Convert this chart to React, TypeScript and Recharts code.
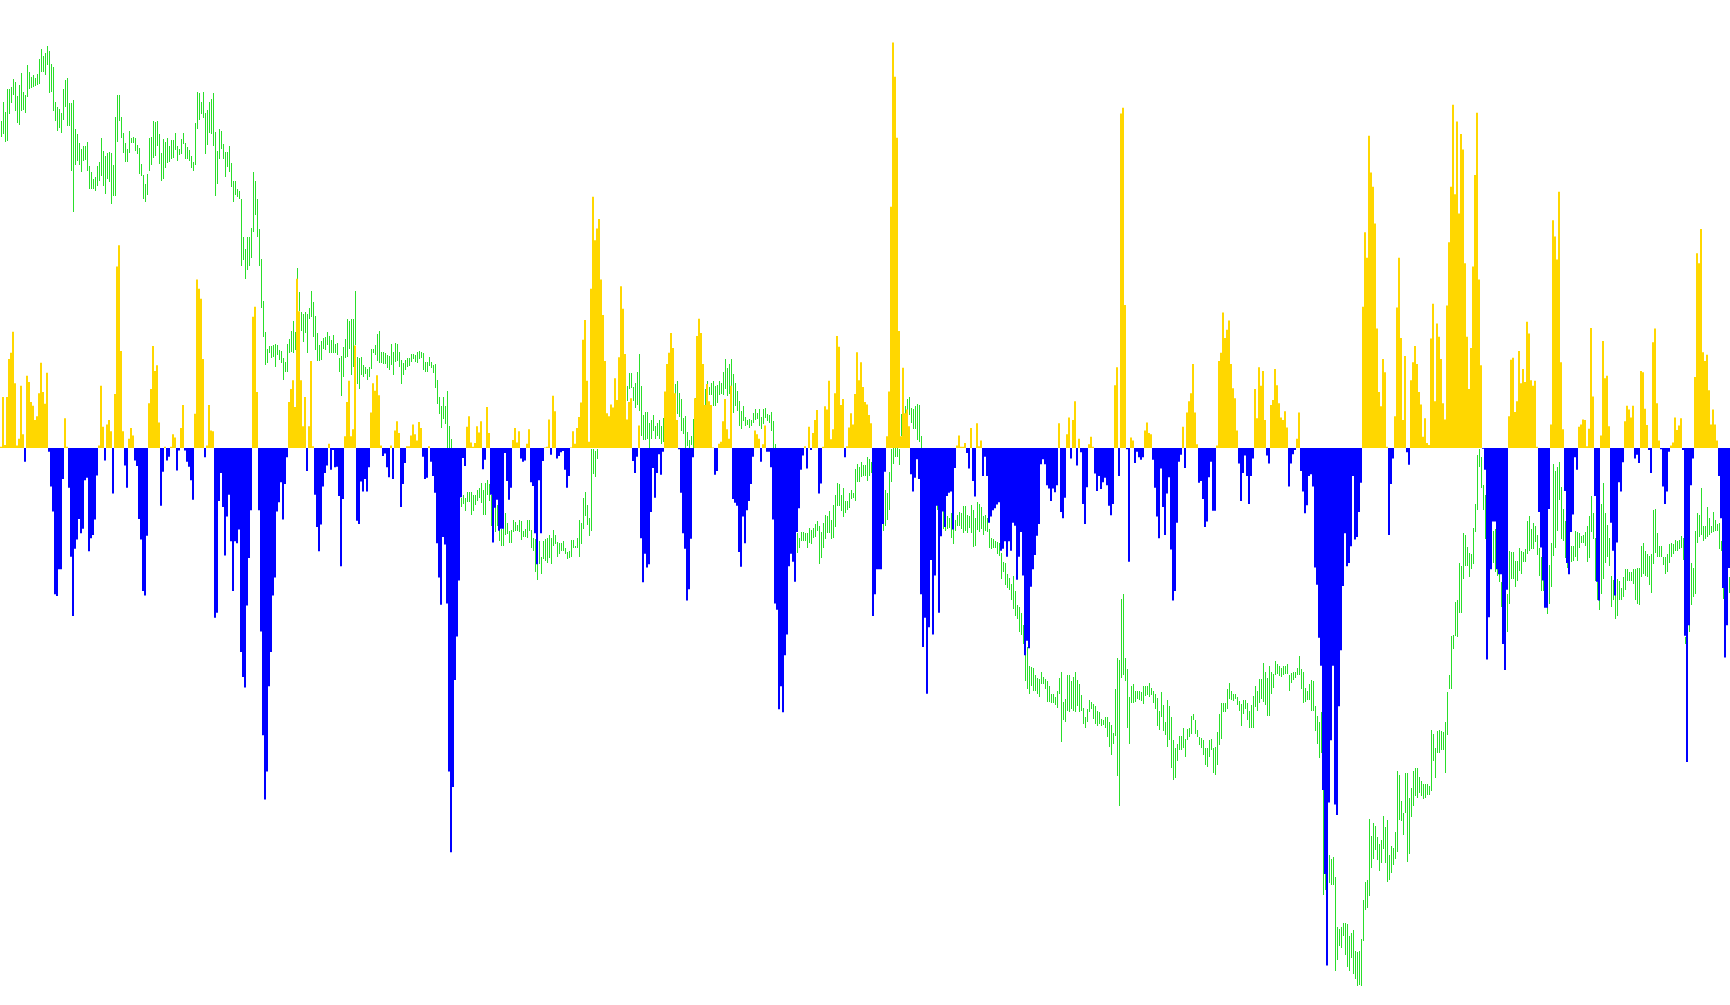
import { ComposedChart, Bar, Cell, XAxis, YAxis } from 'recharts';

const W = 1730;
const H = 1005;

const GOLD  = '#ffd700';
const BLUE  = '#0000ff';
const GREEN = '#2ade2a';

// oscillator histogram, one value per bar (865 bars), positive = gold, negative = blue
const OSC = [
  // bars 0-107
  2,82,5,82,143,153,187,104,4,15, 100,22,-22,116,106,74,68,45,51,88,
  137,90,71,121,-6,-62,-102,-235,-238,-195, -195,-50,48,2,-64,-175,-270,-162,-147,-114,
  -137,-130,-52,-48,-166,-145,-140,-115,-44,4, 100,34,-20,38,45,27,-73,87,292,326,
  156,27,-28,-64,15,32,20,-20,-29,-114, -147,-230,-237,-141,72,95,164,124,133,41,
  -93,-38,2,-20,-14,2,22,17,-36,-4, 32,69,-4,-22,-30,-52,-83,55,271,256,
  240,143,-15,4,69,28,27,-273,
  // bars 108-215
  -265,-85,-40,-95,-173,-110,-75,-150,-230,-150, -153,-131,-328,-368,-385,-253,-177,-100,211,227,
  90,-100,-295,-462,-565,-520,-383,-328,-237,-208, -102,-87,-55,-115,-58,-15,74,95,109,66,
  272,220,109,35,82,-37,35,140,3,-75, -127,-166,-123,-62,-40,-28,7,-35,-3,-31,
  -30,-77,-190,-82,19,74,108,19,30,165, -117,-122,-54,-70,-50,-70,-31,57,104,92,
  117,85,4,-13,-9,-31,-47,4,-50,28, 43,24,-95,-58,-24,3,3,20,38,22,
  12,42,32,-14,-50,-48,3,-22,
  // bars 216-323
  -45,-72,-153,-208,-252,-143,-155,-250,-520,-650, -545,-373,-303,-213,-79,-16,-29,34,51,9,
  2,8,35,25,43,-34,-19,66,24,-75, -152,-96,-83,-133,-130,-130,-8,-53,-83,-64,
  13,32,9,27,-17,-22,-20,7,30,-55, -61,-137,-187,-52,-137,-21,1,2,46,-11,
  84,59,-17,-13,-7,-5,-35,-64,-45,1, 27,7,32,50,73,174,206,108,10,256,
  404,334,353,368,271,214,140,56,51,70, 65,112,77,146,260,224,151,46,74,80,
  -21,-40,-14,36,-145,-216,-170,-192,
  // bars 324-431
  -187,-103,-32,-80,-40,-10,-43,-6,91,135, 153,185,161,88,45,-2,-72,-137,-162,-245,
  -227,-146,-15,80,180,208,185,135,69,103, 75,69,1,-43,-37,7,10,43,79,30,
  15,100,-82,-88,-93,-167,-191,-110,-153,-100, -85,-58,-14,28,22,15,-22,6,36,-6,
  -6,-31,-115,-250,-260,-420,-383,-425,-333,-300, -190,-170,-183,-215,-135,-97,-35,-12,3,-33,
  34,-3,24,45,61,-73,-57,2,67,62, 108,14,30,88,180,163,69,79,-15,3,
  33,56,38,87,154,109,138,98,
  // bars 432-539
  74,70,53,40,-270,-235,-195,-195,-195,-122, -38,19,91,388,652,597,499,188,19,129,
  56,62,35,-42,-70,-48,-18,-50,-235,-320, -273,-395,-288,-180,-300,-205,-93,-265,-142,-102,
  -127,-77,-72,-70,-131,-32,4,20,2,2, 8,-8,-33,32,-53,-78,40,3,12,-45,
  -14,-45,-120,-110,-100,-97,-91,-87,-165,-162, -150,-175,-150,-165,-120,-125,-212,-175,-135,-205,
  -333,-310,-322,-223,-195,-172,-141,-122,-26,-18, -26,-60,-65,-85,-65,-71,-60,40,-103,-113,
  -80,22,49,-17,45,75,-28,15,
  // bars 540-647
  -7,-90,-122,-63,6,18,2,-41,-69,-45, -66,-55,-48,-60,-93,-108,-90,101,130,-45,
  538,547,230,-2,-183,17,12,-24,-6,-15, -19,-15,28,41,24,22,-19,-64,-110,-145,
  -33,-95,-140,-73,-47,-163,-245,-230,-120,-22, -11,34,-32,57,75,88,135,57,6,-56,
  -53,-82,-127,-118,-47,-22,-101,-101,4,140, 153,218,177,190,205,135,96,80,28,-25,
  -85,-40,-12,-45,-90,-45,-17,95,48,130, 100,124,45,-12,-25,69,77,127,101,72,
  49,45,59,33,-62,-25,-10,-3,
  // bars 648-755
  15,57,-37,-70,-105,-92,-45,-42,-62,-192, -220,-305,-350,-550,-685,-832,-570,-470,-350,-573,
  -590,-415,-325,-222,-137,-190,-185,-158,-45,-147, -143,-103,-56,227,347,306,502,443,420,361,
  192,90,67,143,122,2,-140,-58,-17,51, 226,306,177,45,148,-7,-27,109,138,164,
  135,90,70,18,48,8,5,176,232,75, 200,179,143,72,46,229,331,420,552,408,
  525,377,505,480,297,179,95,161,292,439, 539,271,133,-1,-35,-340,-272,-195,-118,-118,
  -195,-203,-203,-315,-357,-228,51,142,
  // bars 756-864
  145,58,75,156,104,127,106,203,184,109, 100,108,2,-103,-160,-213,-257,-257,-98,38,
  366,340,303,412,138,30,-69,-185,-203,-135, -107,-15,-35,34,38,46,45,3,31,193,
  83,-77,-215,-245,20,172,112,116,35,-120, -165,-237,-152,-55,-70,-23,43,68,62,49,
  68,-17,-11,-24,124,122,63,37,-3,-40, 170,192,72,12,-2,-62,-90,-70,-6,4,
  9,49,29,36,48,-3,-302,-505,-285,-60, -17,114,313,297,352,154,140,150,93,38,
  62,38,12,-45,-113,-225,-337,-285,-193,
];

// price bar highs, same bars
const HIGH = [
  1850,1882,1865,1903,1903,1905,1918,1913,1891,1908, 1928,1898,1892,1940,1929,1922,1924,1920,1927,1950,
  1966,1955,1960,1972,1963,1942,1937,1882,1874,1870, 1863,1903,1917,1920,1879,1879,1885,1838,1830,1816,
  1806,1810,1810,1817,1778,1768,1757,1760,1778,1785, 1823,1803,1795,1799,1801,1799,1780,1857,1892,1892,
  1858,1832,1815,1806,1834,1824,1825,1824,1812,1808, 1782,1764,1749,1766,1823,1825,1850,1849,1850,1830,
  1800,1822,1817,1823,1810,1820,1821,1832,1810,1805, 1822,1832,1816,1809,1804,1795,1785,1847,1897,1895,
  1881,1898,1864,1869,1882,1886,1895,1833,

  1803,1838,1835,1814,1801,1801,1811,1783,1755,1754, 1742,1738,1725,1664,1645,1664,1665,1679,1768,1754,
  1725,1677,1629,1562,1512,1484,1489,1489,1490,1492, 1491,1482,1481,1469,1464,1492,1500,1513,1530,1512,
  1614,1576,1543,1540,1544,1540,1550,1578,1560,1537, 1510,1490,1497,1502,1503,1512,1505,1499,1507,1492,
  1494,1470,1473,1487,1501,1532,1530,1533,1533,1578, 1471,1470,1471,1458,1455,1452,1455,1484,1485,1490,
  1508,1513,1480,1479,1478,1475,1473,1493,1480,1494, 1492,1480,1466,1462,1467,1470,1470,1476,1476,1475,
  1479,1481,1479,1477,1463,1463,1471,1463,

  1459,1460,1434,1407,1393,1407,1393,1416,1360,1340, 1320,1300,1280,1265,1245,1250,1245,1255,1254,1255,
  1250,1249,1257,1260,1269,1258,1268,1274,1267,1250, 1240,1230,1233,1210,1195,1200,1221,1205,1192,1194,
  1210,1206,1202,1210,1208,1192,1195,1210,1209,1194, 1180,1178,1174,1175,1150,1176,1178,1180,1185,1180,
  1193,1185,1174,1172,1172,1175,1164,1158,1159,1177, 1177,1168,1180,1209,1205,1244,1255,1234,1212,1324,
  1324,1320,1324,1360,1370,1375,1370,1375,1370,1375, 1380,1375,1385,1390,1395,1400,1410,1425,1445,1445,
  1423,1430,1447,1476,1424,1378,1383,1383,

  1366,1370,1378,1360,1365,1370,1360,1374,1375,1380, 1385,1395,1410,1428,1433,1414,1404,1374,1376,1350,
  1338,1344,1372,1405,1410,1415,1415,1418,1420,1432, 1423,1430,1432,1425,1426,1432,1430,1447,1468,1454,
  1460,1468,1444,1430,1416,1400,1384,1392,1375,1370, 1372,1370,1382,1387,1382,1387,1375,1387,1389,1380,
  1378,1383,1368,1332,1310,1290,1280,1260,1240,1230, 1220,1210,1200,1195,1188,1180,1190,1190,1188,1188,
  1197,1194,1197,1203,1208,1200,1190,1205,1218,1215, 1224,1210,1233,1250,1269,1267,1249,1260,1240,1240,
  1253,1258,1253,1292,1300,1295,1302,1297,

  1298,1310,1307,1303,1285,1270,1255,1240,1230,1220, 1257,1253,1286,1324,1350,1360,1350,1324,1380,1390,
  1392,1404,1407,1389,1387,1392,1396,1394,1345,1260, 1255,1250,1245,1240,1240,1235,1235,1230,1228,1225,
  1210,1215,1213,1220,1210,1210,1218,1222,1220,1232, 1232,1218,1216,1234,1226,1212,1238,1235,1230,1215,
  1218,1212,1195,1180,1178,1175,1174,1172,1157,1142, 1140,1122,1116,1107,1120,1095,1072,1070,1060,1040,
  1010,1005,975,973,972,960,955,954,965,957, 954,951,943,930,930,925,934,956,965,916,
  922,960,960,950,957,965,952,945,

  928,907,892,905,920,917,913,910,902,900, 890,888,892,893,885,880,867,937,988,985,
  1083,1090,987,970,925,943,945,934,935,934, 932,942,942,943,947,940,935,930,923,902,
  932,912,885,920,910,892,855,842,850,862, 862,875,858,873,875,894,898,888,872,860,
  859,855,842,843,855,857,842,845,868,898, 915,915,915,938,947,935,930,930,925,918,
  913,920,920,915,902,912,927,943,935,953, 953,980,965,955,975,965,962,982,978,975,
  972,975,975,978,960,963,965,965,

  972,990,970,965,940,935,945,952,950,910, 895,885,900,775,640,670,670,665,667,635,
  555,552,555,562,562,560,540,545,550,517, 515,517,535,598,628,630,728,702,722,717,
  700,688,695,733,715,727,670,685,682,708, 805,800,757,738,802,803,763,778,805,810,
  810,796,790,785,785,785,782,872,865,842, 870,872,870,868,885,933,960,1023,1025,1077,
  1080,1140,1136,1188,1186,1166,1157,1155,1197,1235, 1314,1324,1310,1265,1250,1220,1210,1200,1192,1195,
  1155,1140,1110,1107,1100,1090,1160,1158,

  1158,1143,1143,1164,1160,1158,1163,1208,1215,1195, 1205,1200,1185,1165,1150,1135,1120,1100,1137,1172,
  1300,1288,1295,1302,1262,1227,1207,1165,1160,1167, 1167,1192,1190,1188,1184,1185,1190,1200,1215,1248,
  1220,1180,1120,1103,1235,1268,1220,1202,1180,1120, 1113,1113,1115,1112,1100,1117,1130,1130,1125,1125,
  1130,1130,1132,1132,1167,1172,1160,1155,1152,1155, 1225,1227,1188,1168,1167,1150,1150,1154,1170,1172,
  1170,1177,1175,1177,1184,1180,1022,1040,1060,1140, 1132,1192,1220,1217,1260,1200,1200,1230,1213,1200,
  1222,1210,1203,1205,1175,1102,1125,1140,1117,
];

// price bar lows
const LOW = [
  1825,1830,1817,1819,1862,1879,1892,1867,1848,1844, 1867,1868,1864,1890,1903,1904,1906,1907,1909,1911,
  1930,1930,1925,1940,1896,1898,1867,1850,1835,1840, 1832,1852,1873,1842,1842,1770,1705,1780,1787,1780,
  1769,1786,1788,1770,1742,1742,1741,1738,1747,1755, 1763,1746,1734,1757,1753,1718,1730,1730,1817,1850,
  1824,1800,1785,1785,1800,1816,1816,1802,1798,1766, 1763,1725,1720,1732,1770,1780,1792,1795,1810,1782,
  1754,1758,1776,1783,1785,1790,1792,1804,1787,1796, 1798,1814,1789,1789,1786,1775,1770,1780,1838,1853,
  1862,1856,1797,1812,1832,1830,1810,1730,

  1750,1790,1805,1790,1760,1777,1768,1745,1720,1732, 1728,1725,1617,1628,1597,1612,1618,1631,1673,1700,
  1665,1618,1550,1503,1458,1462,1477,1470,1472,1455, 1475,1467,1462,1435,1448,1448,1477,1480,1477,1482,
  1530,1545,1513,1495,1510,1478,1533,1535,1503,1483, 1465,1465,1467,1485,1482,1490,1477,1477,1478,1477,
  1475,1447,1408,1440,1470,1472,1485,1443,1455,1490, 1428,1420,1443,1440,1444,1434,1440,1452,1477,1475,
  1465,1462,1462,1460,1460,1454,1450,1459,1443,1464, 1465,1455,1428,1443,1450,1455,1457,1463,1468,1463,
  1462,1468,1469,1450,1447,1448,1457,1453,

  1445,1422,1396,1380,1358,1372,1363,1325,1300,1280, 1260,1240,1230,1225,1230,1235,1223,1238,1238,1217,
  1224,1233,1240,1244,1237,1217,1217,1250,1240,1200, 1210,1190,1200,1175,1168,1167,1185,1187,1172,1172,
  1190,1192,1192,1190,1177,1182,1182,1180,1192,1165, 1160,1125,1113,1138,1122,1147,1144,1140,1149,1138,
  1167,1170,1150,1155,1160,1160,1155,1147,1148,1150, 1164,1164,1165,1150,1170,1195,1215,1202,1184,1192,
  1283,1278,1308,1330,1335,1340,1335,1345,1340,1345, 1350,1345,1350,1355,1360,1370,1380,1400,1420,1422,
  1400,1390,1395,1385,1345,1338,1338,1340,

  1325,1340,1352,1340,1345,1340,1332,1335,1345,1350, 1355,1360,1375,1380,1380,1375,1352,1348,1325,1328,
  1325,1330,1325,1360,1375,1385,1390,1388,1390,1410, 1410,1410,1392,1392,1398,1410,1412,1410,1420,1408,
  1412,1420,1382,1392,1385,1360,1355,1368,1360,1362, 1358,1360,1365,1370,1372,1360,1355,1364,1374,1368,
  1366,1352,1324,1324,1270,1250,1230,1210,1200,1190, 1180,1170,1165,1160,1157,1165,1175,1175,1176,1165,
  1172,1170,1180,1182,1192,1138,1148,1165,1178,1189, 1188,1178,1180,1198,1232,1232,1224,1214,1220,1225,
  1228,1243,1244,1240,1270,1270,1278,1280,

  1280,1272,1280,1285,1240,1220,1210,1200,1195,1192, 1200,1210,1225,1270,1300,1310,1310,1298,1345,1360,
  1375,1380,1378,1365,1355,1355,1338,1335,1324,1225, 1220,1215,1210,1205,1200,1200,1225,1200,1195,1195,
  1192,1195,1197,1180,1170,1192,1200,1200,1195,1188, 1192,1188,1197,1188,1166,1168,1194,1190,1195,1185,
  1192,1190,1165,1162,1165,1165,1155,1152,1115,1125, 1105,1100,1097,1080,1067,1055,1050,1030,1025,1010,
  950,937,930,942,935,935,930,925,945,945, 938,917,917,915,915,912,907,930,852,888,
  885,902,900,905,902,900,910,900,

  902,882,875,885,900,905,890,882,878,882, 878,880,875,860,845,832,850,862,798,750,
  955,960,950,875,850,915,915,917,922,920, 918,913,927,928,925,928,915,905,878,872,
  892,870,863,845,855,810,792,795,822,840, 840,842,828,855,860,865,888,865,860,847,
  843,832,815,813,828,840,802,800,815,848, 858,900,900,905,922,920,918,922,912,902,
  878,898,905,888,875,875,875,908,902,915, 922,917,912,895,895,930,940,960,962,958,
  957,960,962,962,935,948,952,955,

  960,960,937,915,917,920,920,902,902,870, 850,827,835,607,615,610,625,622,622,485,
  502,525,522,540,510,490,485,505,480,472, 460,462,460,532,582,585,605,650,665,678,
  663,645,658,680,658,627,630,642,655,665, 675,727,725,703,738,660,672,732,750,765,
  763,770,765,760,763,768,767,773,822,795, 834,835,840,840,803,863,937,937,1002,1023,
  1022,1060,1060,1115,1136,1135,1118,1130,1138,1190, 1225,1295,1260,1225,1178,1160,1150,1140,1140,1125,
  1120,1110,1070,1075,1040,1030,1075,1115,

  1115,1102,1112,1127,1123,1142,1142,1155,1160,1162, 1162,1174,1153,1120,1095,1095,1070,1058,1075,1102,
  1152,1165,1192,1242,1178,1175,1148,1132,1140,1142, 1143,1150,1143,1165,1172,1172,1168,1142,1148,1190,
  1178,1112,1080,1065,1090,1115,1140,1150,1135,1070, 1080,1050,1055,1080,1080,1085,1097,1112,1112,1112,
  1107,1080,1075,1072,1118,1122,1120,1117,1105,1092, 1138,1157,1150,1150,1150,1137,1123,1125,1140,1150,
  1155,1160,1160,1162,1165,1145,1010,1028,1030,1072, 1085,1090,1172,1182,1185,1175,1178,1182,1185,1188,
  1190,1192,1192,1163,1160,1083,1080,1100,1092,
];

const OSC_DOMAIN: [number, number] = [-895.5, 720.3];
const PRICE_DOMAIN: [number, number] = [429.6, 2045.3];

const rows = OSC.map((v, i) => ({ i, osc: v, range: [LOW[i], HIGH[i]] }));

// one-pixel high/low stick, snapped to the right pixel of each 2px slot
function PriceStick(props: any) {
  const { x, y, width, height } = props;
  if (x == null || y == null || height == null) return null;
  const top = Math.round(Math.min(y, y + height));
  const bottom = Math.round(Math.max(y, y + height));
  return (
    <rect x={Math.floor(x + width / 2)} y={top} width={1}
      height={Math.max(1, bottom - top)} fill={GREEN} />
  );
}

export default function App() {
  return (
    <div style={{ position: 'absolute', left: 0, top: 0, width: W, height: H, background: '#fff' }}>
      <ComposedChart width={W} height={H} data={rows}
        margin={{ top: 0, right: 0, bottom: 0, left: 0 }} barCategoryGap={0} barGap={0}>
        <XAxis xAxisId="osc" dataKey="i" hide />
        <XAxis xAxisId="px" dataKey="i" hide />
        <YAxis yAxisId="osc" hide type="number" domain={OSC_DOMAIN} allowDataOverflow />
        <YAxis yAxisId="px" hide type="number" domain={PRICE_DOMAIN} allowDataOverflow />
        <Bar xAxisId="px" yAxisId="px" dataKey="range" barSize={1} fill={GREEN}
          shape={PriceStick} isAnimationActive={false} />
        <Bar xAxisId="osc" yAxisId="osc" dataKey="osc" isAnimationActive={false}>
          {rows.map(r => <Cell key={r.i} fill={r.osc >= 0 ? GOLD : BLUE} />)}
        </Bar>
      </ComposedChart>
    </div>
  );
}
